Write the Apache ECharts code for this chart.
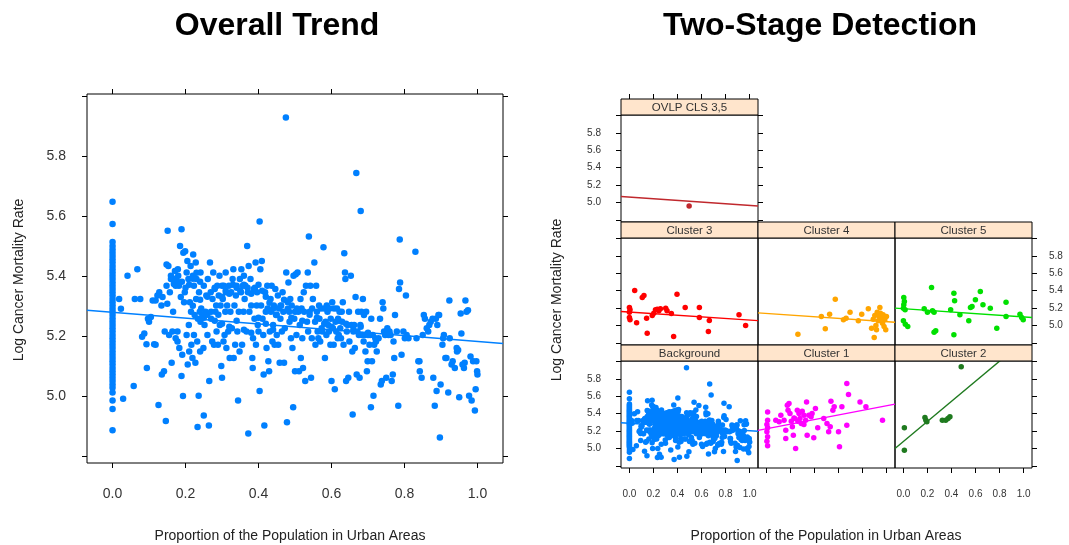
<!DOCTYPE html>
<html>
<head>
<meta charset="utf-8">
<script src="https://cdn.jsdelivr.net/npm/echarts@6/dist/echarts.min.js"></script>
<style>
html, body { margin: 0; padding: 0; background: #fff; }
#main { width: 1069px; height: 545px; }
</style>
</head>
<body>
<div id="main"></div>
<script>
// ---- data ----
// x = proportion urban, y = log cancer mortality rate
var zeroColY = [5.647, 5.573, 5.513, 5.499, 5.488, 5.477, 5.466, 5.455, 5.444, 5.433, 5.422, 5.411, 5.40,
  5.389, 5.378, 5.367, 5.356, 5.345, 5.334, 5.323, 5.312, 5.301, 5.29, 5.28, 5.269, 5.258, 5.247, 5.236,
  5.225, 5.214, 5.203, 5.192, 5.181, 5.17, 5.159, 5.148, 5.137, 5.126, 5.115, 5.104, 5.093, 5.082, 5.071,
  5.06, 5.049, 5.038, 5.027, 5.011, 4.984, 4.956, 4.885];

var urbanPts = [
  [0.029,4.99],[0.041,5.40],[0.023,5.29],[0.018,5.323],
  [0.058,5.033],[0.068,5.422],[0.061,5.323],[0.076,5.323],[0.081,5.197],[0.087,5.208],[0.093,5.172],[0.094,5.093],[0.097,5.257],[0.10,5.247],
  [0.105,5.263],[0.110,5.318],[0.114,5.172],[0.118,5.17],[0.118,5.318],[0.123,5.334],[0.126,4.969],[0.128,5.345],[0.134,5.301],[0.135,5.071],[0.137,5.329],[0.141,5.082],[0.143,5.214],[0.146,4.916],[0.148,5.438],[0.148,5.367],[0.150,5.307],
  [0.151,5.55],[0.153,5.433],[0.155,5.203],[0.157,5.345],[0.160,5.389],[0.162,5.11],[0.164,5.214],[0.166,5.28],[0.168,5.373],[0.171,5.416],[0.173,5.192],[0.173,5.367],[0.176,5.384],[0.178,5.214],[0.178,5.181],[0.179,5.422],[0.182,5.367],[0.183,5.159],[0.185,5.499],[0.187,5.329],[0.189,5.555],[0.189,5.066],[0.191,5.137],[0.193,4.999],[0.194,5.477],[0.196,5.312],[0.198,5.345],[0.199,5.482],
  [0.203,5.411],[0.203,5.203],[0.205,5.449],[0.206,5.104],[0.208,5.389],[0.209,5.236],[0.21,5.148],[0.212,5.312],[0.214,5.433],[0.215,5.28],[0.216,5.17],[0.219,5.126],[0.220,5.40],[0.221,5.471],[0.223,5.367],[0.223,5.203],[0.225,5.269],[0.227,5.11],[0.228,5.444],[0.229,5.323],[0.230,5.389],[0.232,5.181],[0.233,4.896],[0.234,5.257],[0.236,5.0],[0.237,5.345],[0.239,5.28],[0.240,5.148],[0.241,5.411],[0.241,5.247],[0.243,5.291],[0.246,5.269],[0.249,5.159],[0.250,5.367],[0.25,4.934],
  [0.252,5.236],[0.255,5.28],[0.257,5.334],[0.260,5.203],[0.261,5.389],[0.264,4.901],[0.265,5.049],[0.267,5.444],[0.269,5.345],[0.270,5.257],[0.273,5.181],[0.274,5.323],[0.276,5.411],[0.278,5.17],[0.280,5.356],[0.282,5.28],[0.284,5.301],[0.285,5.214],[0.287,5.367],[0.289,5.17],[0.291,5.334],[0.293,5.40],[0.294,5.236],[0.296,5.301],[0.298,5.099],[0.300,5.06],[0.300,5.367],
  [0.302,5.323],[0.304,5.181],[0.305,5.367],[0.307,5.203],[0.309,5.28],[0.310,5.411],[0.311,5.345],[0.312,5.159],[0.314,5.301],[0.317,5.214],[0.319,5.367],[0.321,5.126],[0.323,5.28],[0.325,5.345],[0.327,5.225],[0.329,5.389],[0.331,5.422],[0.332,5.126],[0.334,5.301],[0.336,5.17],[0.338,5.334],[0.340,5.367],[0.342,5.214],[0.344,4.984],[0.346,5.28],[0.348,5.148],[0.349,5.389],
  [0.352,5.345],[0.353,5.422],[0.355,5.17],[0.357,5.367],[0.359,5.28],[0.360,5.40],[0.362,5.323],[0.364,5.367],[0.367,5.214],[0.369,5.499],[0.371,5.345],[0.372,4.874],[0.373,5.433],[0.375,5.28],[0.378,5.389],[0.380,5.301],[0.383,5.126],[0.384,5.093],[0.385,5.192],[0.387,5.356],[0.389,5.257],[0.392,5.444],[0.393,5.17],[0.395,5.301],[0.396,5.345],[0.398,5.236],[0.400,5.214],
  [0.403,5.581],[0.403,5.016],[0.405,5.422],[0.407,5.301],[0.409,5.449],[0.411,5.257],[0.413,5.203],[0.414,5.071],[0.416,4.901],[0.418,5.345],[0.420,5.28],[0.422,5.159],[0.424,5.367],[0.425,5.291],[0.427,5.115],[0.429,5.082],[0.431,5.214],[0.433,5.323],[0.434,5.28],[0.436,5.367],[0.438,5.181],[0.440,5.236],[0.442,5.301],[0.444,5.17],[0.446,5.356],[0.448,5.269],[0.450,5.203],
  [0.453,5.334],[0.454,5.17],[0.456,5.291],[0.458,5.11],[0.460,5.257],[0.462,5.301],[0.464,5.214],[0.466,5.345],[0.468,5.28],[0.470,5.11],[0.472,5.225],[0.475,5.928],[0.476,5.411],[0.478,4.912],[0.480,5.312],[0.482,5.378],[0.484,5.28],[0.485,5.247],[0.487,5.323],[0.489,5.192],[0.491,5.301],[0.493,5.159],[0.495,4.962],[0.496,5.40],[0.498,5.257],[0.500,5.082],
  [0.502,5.405],[0.504,5.203],[0.505,5.291],[0.507,5.411],[0.509,5.28],[0.511,5.082],[0.513,5.236],[0.515,5.323],[0.516,5.126],[0.518,5.291],[0.520,5.192],[0.522,5.093],[0.524,5.345],[0.525,5.28],[0.528,5.049],[0.530,5.367],[0.533,5.247],[0.535,5.411],[0.536,5.214],[0.538,5.531],[0.540,5.28],[0.542,5.367],[0.544,5.06],[0.546,5.192],[0.547,5.291],[0.549,5.323],
  [0.553,5.444],[0.555,5.247],[0.556,5.17],[0.558,5.367],[0.560,5.28],[0.562,5.214],[0.564,5.192],[0.566,5.301],[0.567,5.257],[0.569,5.181],[0.571,5.291],[0.573,5.225],[0.575,5.214],[0.578,5.495],[0.580,5.291],[0.582,5.126],[0.584,5.247],[0.586,5.203],[0.587,5.301],[0.589,5.28],[0.591,5.236],[0.593,5.214],[0.595,5.291],[0.597,5.17],[0.598,5.257],[0.600,5.049],
  [0.602,5.312],[0.604,5.225],[0.606,5.17],[0.607,5.291],[0.609,5.022],[0.611,5.247],[0.613,5.214],[0.615,5.291],[0.617,5.192],[0.618,5.257],[0.620,5.203],[0.622,5.28],[0.624,5.225],[0.626,5.192],[0.628,5.28],[0.629,5.247],[0.631,5.312],[0.633,5.17],[0.635,5.475],[0.637,5.411],[0.638,5.389],[0.640,5.049],[0.642,5.214],[0.644,5.236],[0.646,5.06],[0.648,5.28],[0.649,5.181],
  [0.653,5.40],[0.655,5.236],[0.657,5.148],[0.658,4.938],[0.660,5.214],[0.662,5.236],[0.664,5.159],[0.666,5.329],[0.668,5.743],[0.669,5.071],[0.671,5.214],[0.673,5.28],[0.675,5.203],[0.677,5.06],[0.679,5.236],[0.680,5.616],[0.682,5.28],[0.684,5.203],[0.686,5.323],[0.688,5.181],[0.689,5.269],[0.691,5.203],[0.693,5.148],[0.695,5.28],[0.697,5.082],[0.699,5.115],[0.700,5.203],
  [0.704,5.17],[0.706,5.203],[0.708,4.962],[0.709,5.257],[0.711,5.115],[0.713,5.203],[0.715,5.0],[0.717,5.17],[0.720,5.192],[0.722,5.181],[0.724,5.148],[0.729,5.192],[0.733,5.257],[0.735,5.038],[0.738,5.049],[0.740,5.312],[0.742,5.291],[0.744,5.214],[0.747,5.203],[0.750,5.06],
  [0.753,5.225],[0.756,5.203],[0.759,5.214],[0.762,5.203],[0.765,5.049],[0.768,5.071],[0.770,5.181],[0.772,5.126],[0.774,5.269],[0.779,5.214],[0.783,4.967],[0.785,5.356],[0.787,5.521],[0.788,5.378],[0.792,5.137],[0.797,5.214],[0.801,5.192],
  [0.804,5.334],[0.806,5.203],[0.811,5.192],[0.830,5.48],[0.833,5.192],[0.838,5.115],[0.841,5.115],[0.842,5.082],[0.847,5.06],[0.850,5.203],
  [0.853,5.269],[0.856,5.257],[0.861,5.225],[0.865,5.214],[0.868,5.236],[0.872,5.247],[0.877,5.257],[0.879,5.06],[0.883,4.967],[0.886,5.257],[0.888,5.016],[0.890,5.236],[0.893,5.269],[0.895,5.269],[0.897,4.861],[0.899,5.038],
  [0.904,5.17],[0.906,5.192],[0.908,5.203],[0.912,5.126],[0.915,5.126],[0.920,5.011],[0.923,5.318],[0.924,5.192],[0.929,5.104],[0.932,5.115],[0.938,5.093],[0.943,5.159],[0.944,5.148],[0.947,5.153],[0.950,4.995],
  [0.954,5.274],[0.956,5.208],[0.959,5.104],[0.963,5.093],[0.965,5.11],[0.967,5.318],[0.970,5.28],[0.974,5.285],[0.977,5.0],[0.981,5.131],[0.984,4.984],[0.988,5.115],[0.993,4.951],[0.995,5.022],[0.997,5.115],[0.999,5.082],[1.0,5.071],
  // dense core
  [0.16,5.40],[0.17,5.39],[0.18,5.40],[0.19,5.38],[0.20,5.36],[0.21,5.37],[0.22,5.39],[0.23,5.41],[0.24,5.38],[0.25,5.26],
  [0.26,5.27],[0.27,5.28],[0.28,5.25],[0.29,5.27],[0.30,5.33],[0.31,5.35],[0.32,5.34],[0.33,5.37],[0.34,5.36],[0.35,5.35],
  [0.36,5.37],[0.37,5.36],[0.38,5.34],[0.39,5.36],[0.40,5.37],[0.41,5.35],[0.42,5.33],[0.43,5.31],[0.44,5.29],[0.45,5.27],
  [0.46,5.30],[0.47,5.32],[0.48,5.29],[0.49,5.26],[0.50,5.28],[0.52,5.25],[0.54,5.27],[0.56,5.26],[0.58,5.24],[0.60,5.23],
  [0.62,5.25],[0.64,5.24],[0.66,5.22],[0.68,5.23],[0.70,5.21],[0.22,5.30],[0.24,5.32],[0.26,5.33],[0.28,5.36],[0.30,5.24],
  [0.32,5.23],[0.34,5.25],[0.36,5.22],[0.38,5.21],[0.40,5.26],[0.42,5.24],[0.44,5.22]
];

var ovlpPts = [[0.497,4.959]];
var c3Pts = [[0.044,5.402],[0.0,5.207],[0.005,5.18],[0.0,5.153],[0.0,5.092],[0.005,5.065],[0.06,5.031],[0.107,5.322],
  [0.121,5.345],[0.143,5.084],[0.148,4.912],[0.19,5.115],[0.203,5.142],[0.217,5.18],[0.231,5.188],[0.245,5.169],
  [0.258,5.192],[0.302,5.199],[0.313,5.169],[0.349,5.138],[0.368,4.874],[0.396,5.36],[0.464,5.207],[0.582,5.207],
  [0.582,5.092],[0.657,4.931],[0.665,5.057],[0.912,5.123],[0.967,5.0]];
var c4Pts = [[0.262,4.90],[0.49,4.962],[0.457,5.103],[0.526,5.13],[0.573,5.303],[0.641,5.065],[0.663,5.084],[0.696,5.153],
  [0.765,5.054],[0.793,5.13],[0.848,5.192],[0.875,4.969],[0.889,5.073],[0.897,4.862],[0.911,5.0],[0.916,4.95],
  [0.93,5.054],[0.938,5.103],[0.944,5.207],[0.949,5.142],[0.957,5.084],[0.966,5.027],[0.971,5.123],[0.979,4.989],
  [0.985,5.065],[0.993,4.95],[0.999,5.103],[0.902,5.115],[0.922,5.153]];
var c5Pts = [[0.003,5.322],[0.008,5.276],[0.003,5.238],[0.0,5.199],[0.014,5.18],[0.0,5.054],[0.016,5.015],[0.036,4.989],
  [0.173,5.192],[0.2,5.153],[0.234,5.437],[0.242,5.169],[0.255,4.923],[0.269,4.939],[0.393,5.18],[0.42,5.372],
  [0.426,5.284],[0.42,4.893],[0.47,5.123],[0.544,5.054],[0.558,5.207],[0.571,5.218],[0.599,5.295],[0.64,5.391],
  [0.662,5.238],[0.723,5.199],[0.777,4.969],[0.854,5.268],[0.854,5.103],[0.97,5.13],[0.984,5.092],[0.997,5.065],[0.255,5.153]];
var c1Pts = [[0.01,5.421],[0.01,5.326],[0.004,5.276],[0.01,5.238],[0.004,5.192],[0.01,5.134],[0.004,5.084],[0.01,5.031],
  [0.078,5.326],[0.106,5.307],[0.12,5.383],[0.147,5.326],[0.161,5.211],[0.161,5.115],[0.174,5.498],[0.18,5.441],
  [0.188,5.517],[0.196,5.402],[0.207,5.314],[0.216,5.249],[0.224,5.153],[0.235,5.345],[0.243,5.0],[0.257,5.441],
  [0.271,5.402],[0.279,5.345],[0.29,5.287],[0.298,5.429],[0.312,5.383],[0.326,5.326],[0.334,5.536],[0.339,5.153],
  [0.353,5.383],[0.372,5.364],[0.38,5.402],[0.408,5.46],[0.427,5.238],[0.504,5.287],[0.518,5.192],[0.531,5.249],
  [0.537,5.544],[0.553,5.441],[0.564,5.479],[0.6,5.192],[0.608,5.019],[0.628,5.479],[0.669,5.268],[0.669,5.747],
  [0.683,5.621],[0.779,5.536],[0.828,5.479],[0.966,5.326],[0.229,5.352],[0.262,5.314],[0.312,5.276],[0.394,5.123],[0.477,5.345]];
var c2Pts = [[0.008,5.238],[0.008,4.981],[0.179,5.356],[0.187,5.326],[0.195,5.307],[0.324,5.326],[0.352,5.326],[0.371,5.345],[0.387,5.364],[0.481,5.939]];

// least squares lines (intercept, slope)
var overallFit = [5.278, -0.0967];
var panelNames = ['OVLP CLS 3,5', 'Cluster 3', 'Cluster 4', 'Cluster 5', 'Background', 'Cluster 1', 'Cluster 2'];
var panelIntercepts = [5.063, 5.155, 5.139, 5.193, 5.29, 5.227, 5.08];
var panelSlopes = [-0.097, -0.092, -0.095, -0.095, -0.085, 0.265, 1.155];

var xTicks = [0, 0.2, 0.4, 0.6, 0.8, 1.0];
var yTicks = [4.8, 5.0, 5.2, 5.4, 5.6, 5.8, 6.0];
var yLabels = [5.0, 5.2, 5.4, 5.6, 5.8];

// ---- styles / layout ----
var panelColors = ['#c0282d', '#ff0000', '#ffa500', '#00e000', '#0080ff', '#ff00ff', '#1f7a1f'];
var X_MIN = -0.07, X_MAX = 1.07, Y_MIN = 4.776, Y_MAX = 6.006;
var FONT = '"Liberation Sans", Arial, sans-serif';
var colLeft = [621, 758, 895], colW = 137;
var rowTop = [115, 238, 361], rowH = 107, stripH = 16;
// panel placement: [col,row] per panelNames
var panelPos = [[0, 0], [0, 1], [1, 1], [2, 1], [0, 2], [1, 2], [2, 2]];
var panelPts = [ovlpPts, c3Pts, c4Pts, c5Pts, null, c1Pts, c2Pts];

var allPts = zeroColY.map(function (y) { return [0, y]; }).concat(urbanPts);
panelPts[4] = allPts;

var grids = [], xAxes = [], yAxes = [], series = [], graphics = [];

function addAxis(list, gridIndex, position, o) {
  var isX = (position == 'top' || position == 'bottom');
  list.push({
    type: 'value', gridIndex: gridIndex, position: position,
    min: isX ? X_MIN : Y_MIN, max: isX ? X_MAX : Y_MAX,
    offset: o.offset || 0,
    axisLine: { show: false, onZero: false },
    splitLine: { show: false },
    axisTick: { show: !!o.ticks, inside: false, length: 5,
      lineStyle: { color: '#000', width: 1 }, customValues: isX ? xTicks : yTicks },
    axisLabel: { show: !!o.labels, customValues: isX ? xTicks : yLabels,
      margin: o.margin || 8, fontSize: o.fontSize || 10, color: '#333', fontFamily: FONT,
      formatter: function (v) { return v.toFixed(1); } }
  });
  return list.length - 1;
}

function fitLine(a, b) {
  return [[X_MIN, a + b * X_MIN], [X_MAX, a + b * X_MAX]];
}

// left panel: overall trend
grids.push({ left: 87, top: 94, width: 416, height: 369, show: true, borderColor: '#000', borderWidth: 1 });
var lx = addAxis(xAxes, 0, 'bottom', { ticks: true, labels: true, margin: 24, fontSize: 14 });
addAxis(xAxes, 0, 'top', { ticks: true });
var ly = addAxis(yAxes, 0, 'left', { ticks: true, labels: true, margin: 21, fontSize: 14 });
addAxis(yAxes, 0, 'right', { ticks: true });
series.push({ type: 'scatter', xAxisIndex: lx, yAxisIndex: ly, data: allPts, symbolSize: 6.5,
  itemStyle: { color: '#0080ff', opacity: 1 }, silent: true });
series.push({ type: 'line', xAxisIndex: lx, yAxisIndex: ly, data: fitLine(overallFit[0], overallFit[1]),
  showSymbol: false, lineStyle: { color: '#0080ff', width: 1.5 }, silent: true });

// right panels: two-stage detection lattice
panelNames.forEach(function (name, i) {
  var c = panelPos[i][0], r = panelPos[i][1];
  var g = grids.length;
  grids.push({ left: colLeft[c], top: rowTop[r], width: colW, height: rowH, show: true, borderColor: '#000', borderWidth: 1 });
  var bottomRow = (r == 2);
  var xi = addAxis(xAxes, g, 'bottom', { ticks: bottomRow, labels: bottomRow && c != 1, margin: 21 });
  if (r == 0) addAxis(xAxes, g, 'top', { ticks: true, offset: stripH });
  var yi;
  if (c == 0) {
    yi = addAxis(yAxes, g, 'left', { ticks: true, labels: r != 1, margin: 20 });
    if (r == 0) addAxis(yAxes, g, 'right', { ticks: true });
  } else if (c == 2) {
    yi = addAxis(yAxes, g, 'right', { ticks: true, labels: r == 1, margin: 17 });
  } else {
    yi = addAxis(yAxes, g, 'left', {});
  }
  series.push({ type: 'scatter', xAxisIndex: xi, yAxisIndex: yi, data: panelPts[i], symbolSize: 5.5,
    itemStyle: { color: panelColors[i], opacity: 1 }, silent: true });
  series.push({ type: 'line', xAxisIndex: xi, yAxisIndex: yi, data: fitLine(panelIntercepts[i], panelSlopes[i]),
    showSymbol: false, lineStyle: { color: panelColors[i], width: 1.4 }, silent: true });
  // strip
  graphics.push({ type: 'rect', z: 10, shape: { x: colLeft[c], y: rowTop[r] - stripH, width: colW, height: stripH },
    style: { fill: '#ffe5cc', stroke: '#000', lineWidth: 1 } });
  graphics.push({ type: 'text', z: 11, x: colLeft[c] + colW / 2, y: rowTop[r] - stripH / 2 + 0.5,
    style: { text: name, fill: '#333', font: '11.5px ' + FONT, align: 'center', verticalAlign: 'middle' } });
});

// titles and axis names
graphics.push({ type: 'text', x: 277, y: 26, style: { text: 'Overall Trend', fill: '#000', font: 'bold 32px ' + FONT, align: 'center', verticalAlign: 'middle' } });
graphics.push({ type: 'text', x: 820, y: 26, style: { text: 'Two-Stage Detection', fill: '#000', font: 'bold 32px ' + FONT, align: 'center', verticalAlign: 'middle' } });
graphics.push({ type: 'text', x: 290, y: 536, style: { text: 'Proportion of the Population in Urban Areas', fill: '#222', font: '14px ' + FONT, align: 'center', verticalAlign: 'middle' } });
graphics.push({ type: 'text', x: 826, y: 536, style: { text: 'Proportion of the Population in Urban Areas', fill: '#222', font: '14px ' + FONT, align: 'center', verticalAlign: 'middle' } });
graphics.push({ type: 'text', x: 19, y: 280, rotation: Math.PI / 2, style: { text: 'Log Cancer Mortality Rate', fill: '#222', font: '14px ' + FONT, align: 'center', verticalAlign: 'middle' } });
graphics.push({ type: 'text', x: 557, y: 300, rotation: Math.PI / 2, style: { text: 'Log Cancer Mortality Rate', fill: '#222', font: '14px ' + FONT, align: 'center', verticalAlign: 'middle' } });

var myChart = echarts.init(document.getElementById('main'));
var option = {
  animation: false,
  backgroundColor: '#fff',
  grid: grids,
  xAxis: xAxes,
  yAxis: yAxes,
  series: series,
  graphic: graphics
};
myChart.setOption(option);
</script>
</body>
</html>
